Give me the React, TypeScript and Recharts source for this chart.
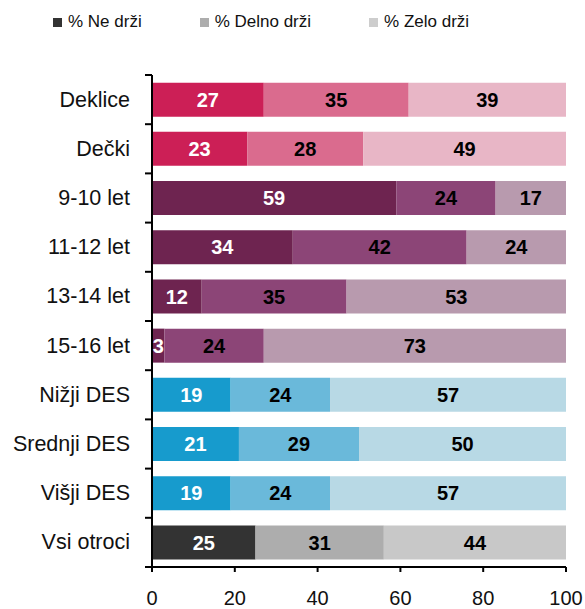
import { Bar, BarChart, Cell, LabelList, XAxis, YAxis } from "recharts";

const categories = [
  "Deklice",
  "Dečki",
  "9-10 let",
  "11-12 let",
  "13-14 let",
  "15-16 let",
  "Nižji DES",
  "Srednji DES",
  "Višji DES",
  "Vsi otroci",
];
const groups = ["spol", "spol", "starost", "starost", "starost", "starost", "des", "des", "des", "vsi"];
const neDrzi = [27, 23, 59, 34, 12, 3, 19, 21, 19, 25];
const delnoDrzi = [35, 28, 24, 42, 35, 24, 24, 29, 24, 31];
const zeloDrzi = [39, 49, 17, 24, 53, 73, 57, 50, 57, 44];
const seriesNames = ["% Ne drži", "% Delno drži", "% Zelo drži"];
const xTicks = [0, 20, 40, 60, 80, 100];

const palette: Record<string, string[]> = {
  spol: ["#cc1f56", "#da6b8e", "#e8b6c6"],
  starost: ["#6e2450", "#8c4577", "#b89aae"],
  des: ["#179bcd", "#6ab9da", "#b8d9e5"],
  vsi: ["#333333", "#adadad", "#c8c8c8"],
};
const legendColors = ["#333333", "#adadad", "#cdcdcd"];

const FONT = "'Liberation Sans', Arial, sans-serif";

const rows = categories.map((name, i) => ({
  name,
  group: groups[i],
  ne: neDrzi[i],
  delno: delnoDrzi[i],
  zelo: zeloDrzi[i],
}));

const keys = ["ne", "delno", "zelo"] as const;

function CategoryTick(props: any) {
  const { x, y, payload, index, visibleTicksCount } = props;
  const axisX = x + 7 + 15;
  const half = payload?.offset ?? 24.6;
  const last = index === (visibleTicksCount ?? categories.length) - 1;
  return (
    <g>
      <line x1={axisX - 7} x2={axisX} y1={y - half} y2={y - half} stroke="#000" strokeWidth={2} />
      {last ? (
        <line x1={axisX - 7} x2={axisX} y1={y + half} y2={y + half} stroke="#000" strokeWidth={2} />
      ) : null}
      <text
        x={x}
        y={y}
        textAnchor="end"
        dominantBaseline="central"
        fill="#111"
        fontSize={21.5}
        fontFamily={FONT}
      >
        {payload.value}
      </text>
    </g>
  );
}

export default function App() {
  return (
    <div
      style={{
        position: "absolute",
        left: 0,
        top: 0,
        width: 585,
        height: 609,
        overflow: "hidden",
        background: "#fff",
        fontFamily: FONT,
      }}
    >
      <div style={{ position: "absolute", top: 12, left: 53, display: "flex", gap: 58, fontSize: 17, color: "#111" }}>
        {seriesNames.map((name, i) => (
          <div key={name} style={{ display: "flex", alignItems: "center" }}>
            <span style={{ width: 9, height: 9, background: legendColors[i], marginRight: 6, display: "inline-block" }} />
            <span>{name}</span>
          </div>
        ))}
      </div>
      <BarChart
        width={585}
        height={609}
        data={rows}
        layout="vertical"
        margin={{ top: 75, right: 19, bottom: 0, left: 0 }}
        barCategoryGap="15.5%"
      >
        <XAxis
          type="number"
          domain={[0, 100]}
          ticks={xTicks}
          interval={0}
          allowDataOverflow
          height={42}
          axisLine={{ stroke: "#000", strokeWidth: 2 }}
          tickLine={{ stroke: "#000", strokeWidth: 2 }}
          tickSize={5}
          tickMargin={19}
          tick={{ fill: "#111", fontSize: 20, fontFamily: FONT }}
        />
        <YAxis
          type="category"
          dataKey="name"
          width={152}
          interval={0}
          axisLine={{ stroke: "#000", strokeWidth: 2 }}
          tickLine={{ stroke: "none" }}
          tickSize={7}
          tickMargin={15}
          tick={<CategoryTick />}
        />
        {keys.map((key, k) => (
          <Bar key={key} dataKey={key} stackId="a" name={seriesNames[k]} isAnimationActive={false}>
            {rows.map((row) => (
              <Cell key={row.name} fill={palette[row.group][k]} />
            ))}
            <LabelList
              dataKey={key}
              position="center"
              fill={k === 0 ? "#fff" : "#000"}
              fontSize={20}
              fontWeight="bold"
              fontFamily={FONT}
            />
          </Bar>
        ))}
      </BarChart>
    </div>
  );
}
